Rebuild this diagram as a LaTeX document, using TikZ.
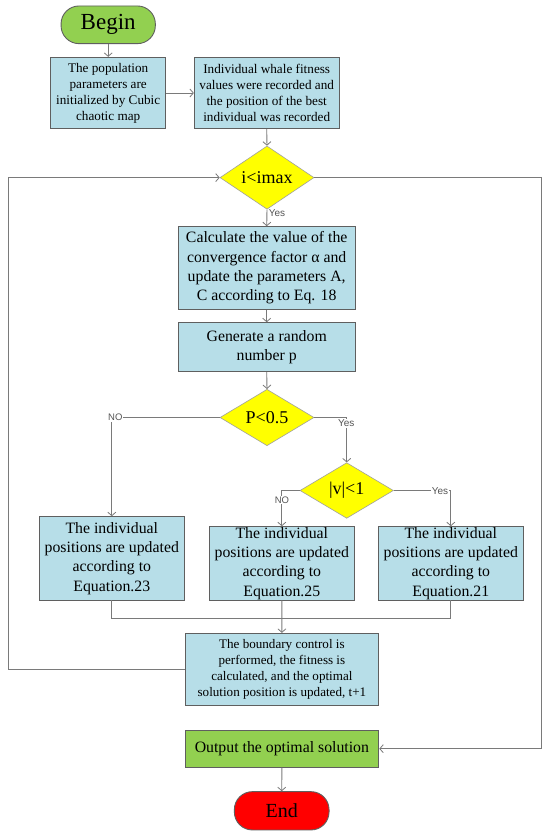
\documentclass[tikz,border=0pt]{standalone}
\usepackage{fontspec}
\setmainfont{Liberation Serif}
\newfontfamily\lblfont{Liberation Sans}
\usetikzlibrary{shapes.geometric,arrows.meta,calc}
\definecolor{boxblue}{HTML}{B7DEE8}
\definecolor{boxgreen}{HTML}{92D050}
\definecolor{endred}{HTML}{FF0000}
\definecolor{dyellow}{HTML}{FFFF00}
\definecolor{edgegray}{HTML}{5F5F5F}
\definecolor{linegray}{HTML}{7A7A7A}
\definecolor{lblgray}{HTML}{555555}
\tikzset{
  proc/.style={draw=edgegray, line width=0.9pt, fill=boxblue, align=center, inner sep=0pt, text=black},
  decide/.style={diamond, draw=edgegray!60, line width=0.6pt, fill=dyellow, inner sep=0pt, text=black},
  term/.style={draw=edgegray, line width=0.9pt, rounded corners=18pt, inner sep=0pt, text=black},
  conn/.style={draw=linegray, line width=0.9pt},
  arr/.style={conn, -{Straight Barb[length=3.5pt,width=8pt,line width=0.8pt]}},
  lbl/.style={font=\lblfont\fontsize{10}{12}\selectfont, text=lblgray, inner sep=1pt}
}
\begin{document}
\begin{tikzpicture}[x=1pt,y=-1pt]
\useasboundingbox (0,0) rectangle (550,839);
\fill[white] (0,0) rectangle (550,839);
% nodes
\node[term, fill=boxgreen, minimum width=94.3pt, minimum height=37.7pt, font=\fontsize{23}{26}\selectfont] (begin) at (108.2,24.8) {Begin};
\node[proc, minimum width=115pt, minimum height=71.4pt, font=\fontsize{13.2}{15.9}\selectfont] (box1) at (108.2,93) {The population\\parameters are\\initialized by Cubic\\chaotic map};
\node[proc, minimum width=144.7pt, minimum height=71.4pt, font=\fontsize{13.2}{15.9}\selectfont] (box2) at (266.7,93) {Individual whale fitness\\values were recorded and\\the position of the best\\individual was recorded};
\node[decide, minimum width=94pt, minimum height=56.7pt, font=\fontsize{18}{20}\selectfont] (d1) at (267,177.6) {i<imax};
\node[proc, minimum width=176.7pt, minimum height=82.7pt, font=\fontsize{15.8}{19.3}\selectfont] (box3) at (266.7,268) {Calculate the value of the\\convergence factor α and\\update the parameters A,\\C according to Eq. 18};
\node[proc, minimum width=176.7pt, minimum height=49pt, font=\fontsize{15.8}{19.3}\selectfont] (box4) at (266.7,347.2) {Generate a random\\number p};
\node[decide, minimum width=94pt, minimum height=56.4pt, font=\fontsize{18}{20}\selectfont] (d2) at (267,417.5) {P<0.5};
\node[decide, minimum width=93.4pt, minimum height=55.6pt, font=\fontsize{18}{20}\selectfont] (d3) at (346.7,490.5) {|v|<1};
\node[proc, minimum width=145pt, minimum height=83.3pt, font=\fontsize{15.8}{19.3}\selectfont] (box5) at (111.8,558.3) {The individual\\positions are updated\\according to\\Equation.23};
\node[proc, minimum width=145pt, minimum height=73.3pt, font=\fontsize{15.8}{19.3}\selectfont] (box6) at (281.8,563.3) {The individual\\positions are updated\\according to\\Equation.25};
\node[proc, minimum width=145pt, minimum height=73.3pt, font=\fontsize{15.8}{19.3}\selectfont] (box7) at (450.8,563.3) {The individual\\positions are updated\\according to\\Equation.21};
\node[proc, minimum width=193.8pt, minimum height=72pt, font=\fontsize{13.1}{16.1}\selectfont] (box8) at (281.9,669.3) {The boundary control is\\performed, the fitness is\\calculated, and the optimal\\solution position is updated, t+1};
\node[proc, fill=boxgreen, minimum width=193.8pt, minimum height=37.3pt, font=\fontsize{15.8}{19.3}\selectfont] (out) at (281.9,748.7) {Output the optimal solution};
\node[term, fill=endred, minimum width=94.7pt, minimum height=38.3pt, font=\fontsize{20}{24}\selectfont] (end) at (281.7,810.8) {End};
% helper coordinates
\coordinate (lx) at (8.3,669.3);
\coordinate (rx) at (541,177.6);
\coordinate (mrg) at (281.8,618.3);
% connectors
\draw[arr] (begin.south) -- (box1.north);
\draw[arr] (box1.east) -- (box2.west);
\draw[arr] (box2.south) -- (d1.north);
\draw[arr] (d1.south) -- (box3.north);
\draw[arr] (box3.south) -- (box4.north);
\draw[arr] (box4.south) -- (d2.north);
\draw[arr] (d2.west) -| (box5.north);
\draw[arr] (d2.east) -| (d3.north);
\draw[arr] (d3.west) -| (box6.north);
\draw[arr] (d3.east) -| (box7.north);
\draw[conn] (box5.south) |- (mrg);
\draw[conn] (box7.south) |- (mrg);
\draw[arr] (box6.south) -- (box8.north);
\draw[arr] (box8.west) -- (lx) |- (d1.west);
\draw[arr] (d1.east) -- (rx) |- (out.east);
\draw[arr] (out.south) -- (end.north);
% labels
\node[lbl] (yes1) at (277,213.3) {Yes};
\node[lbl, fill=white, font=\lblfont\fontsize{9.5}{11}\selectfont] (no1) at (115.3,417.3) {NO};
\node[lbl, fill=white] (yes2) at (346.3,423.3) {Yes};
\node[lbl, fill=white, font=\lblfont\fontsize{9.5}{11}\selectfont] (no2) at (282,500) {NO};
\node[lbl, fill=white] (yes3) at (440,491) {Yes};
\end{tikzpicture}
\end{document}
